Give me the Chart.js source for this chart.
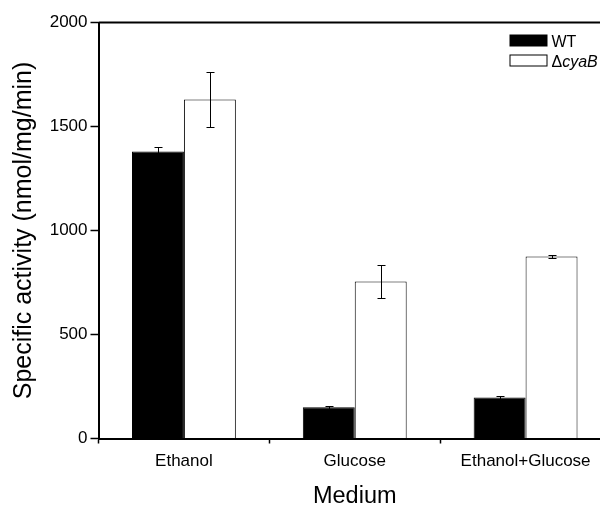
<!DOCTYPE html>
<html>
<head>
<meta charset="utf-8">
<script src="https://cdn.jsdelivr.net/npm/chart.js@4"></script>
<style>
  html, body { margin: 0; padding: 0; background: #fff; overflow: hidden; }
  #caixa { width: 600px; height: 506px; overflow: hidden; }
</style>
</head>
<body>
<div id="caixa"><canvas id="grap" width="614" height="512"></canvas></div>
<script>
const meios = ['Ethanol', 'Glucose', 'Ethanol+Glucose']
const wt = [1380, 150, 197]
const wtErro = [20, 8, 5]
const cyab = [1630, 755, 875]
const cyabErro = [130, 80, 8]
const yTicks = [0, 500, 1000, 1500, 2000]

const fonte = "'Liberation Sans', Arial, sans-serif"

// barras de erro desenhadas em cima de cada barra
const barrasErro = {
    id: 'barrasErro',
    afterDatasetsDraw(chart) {
        const ctx = chart.ctx
        const y = chart.scales.y
        ctx.save()
        ctx.strokeStyle = '#000'
        ctx.lineWidth = 1
        chart.data.datasets.forEach((ds, i) => {
            chart.getDatasetMeta(i).data.forEach((bar, j) => {
                const topo = Math.round(y.getPixelForValue(ds.data[j] + ds.erro[j])) + 0.5
                const base = Math.round(y.getPixelForValue(ds.data[j] - ds.erro[j])) + 0.5
                const x = Math.round(bar.x) + 0.5
                ctx.beginPath()
                ctx.moveTo(x, topo)
                ctx.lineTo(x, base)
                ctx.moveTo(x - 4, topo)
                ctx.lineTo(x + 4, topo)
                ctx.moveTo(x - 4, base)
                ctx.lineTo(x + 4, base)
                ctx.stroke()
            })
        })
        ctx.restore()
    }
}

// linha de cima e da direita do quadro
const moldura = {
    id: 'moldura',
    afterDraw(chart) {
        const {ctx, chartArea} = chart
        ctx.save()
        ctx.strokeStyle = '#000'
        ctx.lineWidth = 2
        ctx.beginPath()
        ctx.moveTo(chartArea.left, chartArea.top)
        ctx.lineTo(chartArea.right, chartArea.top)
        ctx.lineTo(chartArea.right, chartArea.bottom)
        ctx.stroke()
        ctx.restore()
    }
}

// legenda propria, por causa do cyaB em italico
const legenda = {
    id: 'legenda',
    afterDraw(chart) {
        const {ctx, chartArea} = chart
        const x = chartArea.left + 411
        const y = chartArea.top + 12
        ctx.save()
        ctx.fillStyle = chart.data.datasets[0].backgroundColor
        ctx.fillRect(x, y, 38, 12)
        ctx.fillStyle = chart.data.datasets[1].backgroundColor
        ctx.fillRect(x, y + 20, 38, 12)
        ctx.strokeStyle = '#000'
        ctx.lineWidth = 1
        ctx.strokeRect(x + 0.5, y + 20.5, 37, 11)
        ctx.fillStyle = '#000'
        ctx.textBaseline = 'alphabetic'
        ctx.font = '16px ' + fonte
        ctx.fillText(chart.data.datasets[0].label, x + 42, y + 12)
        ctx.fillText('\u0394', x + 42, y + 32)
        const w = ctx.measureText('\u0394').width
        ctx.font = 'italic 16px ' + fonte
        ctx.fillText('cyaB', x + 42 + w, y + 32)
        ctx.restore()
    }
}

function criarGraf() {
    const ctx = document.getElementById('grap').getContext('2d')

    new Chart(ctx, {
        type: 'bar',
        data: {
            labels: meios,
            datasets: [{
                label: 'WT',
                data: wt,
                erro: wtErro,
                backgroundColor: '#000',
                borderColor: '#000',
                borderWidth: 1
            }, {
                label: '\u0394cyaB',
                data: cyab,
                erro: cyabErro,
                backgroundColor: '#fff',
                borderColor: '#000',
                borderWidth: 1
            }]
        },
        options: {
            responsive: false,
            animation: false,
            layout: {
                padding: {top: 22.5, right: 3, left: 0, bottom: 0}
            },
            plugins: {
                legend: {display: false},
                tooltip: {enabled: false}
            },
            datasets: {
                bar: {
                    categoryPercentage: 0.608,
                    barPercentage: 1
                }
            },
            scales: {
                x: {
                    grid: {
                        offset: true,
                        drawOnChartArea: false,
                        tickLength: 5,
                        tickColor: '#000',
                        tickWidth: 1.5
                    },
                    border: {color: '#000', width: 2},
                    ticks: {
                        color: '#000',
                        padding: 8,
                        maxRotation: 0,
                        font: {family: fonte, size: 17}
                    },
                    title: {
                        display: true,
                        text: 'Medium',
                        color: '#000',
                        padding: {top: 0, bottom: 1},
                        font: {family: fonte, size: 23.5}
                    },
                    afterFit: s => { s.height = 73.5 }
                },
                y: {
                    min: 0,
                    max: 2000,
                    afterBuildTicks: s => { s.ticks = yTicks.map(v => ({value: v})) },
                    grid: {
                        drawOnChartArea: false,
                        tickLength: 8,
                        tickColor: '#000',
                        tickWidth: 1.5
                    },
                    border: {color: '#000', width: 2},
                    ticks: {
                        color: '#000',
                        padding: 3,
                        font: {family: fonte, size: 17},
                        callback: v => String(v)
                    },
                    title: {
                        display: true,
                        text: 'Specific activity (nmol/mg/min)',
                        color: '#000',
                        padding: {top: 9, bottom: 0},
                        font: {family: fonte, size: 25}
                    },
                    afterFit: s => { s.width = 98.5 }
                }
            }
        },
        plugins: [barrasErro, moldura, legenda]
    })
}

criarGraf()
</script>
</body>
</html>
